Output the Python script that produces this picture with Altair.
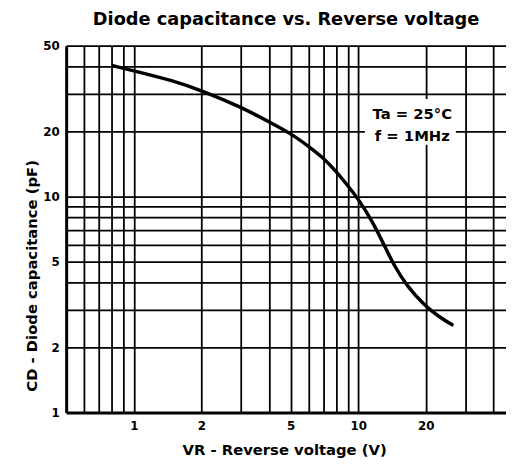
import altair as alt
import pandas as pd

# Curve (reverse voltage V, capacitance pF)
vr = [0.8, 1.0, 1.5, 2.0, 3.0, 4.0, 5.0, 6.0, 7.0, 8.0, 9.0, 10.0, 11.5, 13.0, 14.5, 16.5, 19.5, 23.0, 26.5]
cd = [40.5, 38.2, 34.4, 31.0, 26.0, 22.2, 19.6, 17.1, 15.1, 13.0, 11.2, 9.75, 7.75, 6.0, 4.75, 3.85, 3.17, 2.76, 2.53]

# Grid and label values
x_grid = [0.5, 0.6, 0.7, 0.8, 0.9, 1, 2, 3, 4, 5, 6, 7, 8, 9, 10, 20, 30, 40]
x_labels = [1, 2, 5, 10, 20]
y_grid = [1, 2, 3, 4, 5, 6, 7, 8, 9, 10, 20, 30, 40, 50]
y_labels = [1, 2, 5, 10, 20, 50]

# Annotation
note_lines = ["Ta = 25°C", "f = 1MHz"]
note_vr = [17.4, 17.4]
note_cd = [22.9, 18.0]
box_vr = [10.7]
box_vr2 = [27.2]
box_cd = [17.4]
box_cd2 = [28.3]

FONT = "DejaVu Sans"

curve = pd.DataFrame({"vr": vr, "cd": cd})
notes = pd.DataFrame({"vr": note_vr, "cd": note_cd, "txt": note_lines})
box = pd.DataFrame({"vr": box_vr, "vr2": box_vr2, "cd": box_cd, "cd2": box_cd2})

xs = alt.Scale(type="log", domain=[0.5, 45.5], nice=False)
ys = alt.Scale(type="log", domain=[1, 50], nice=False)

x_lab_expr = "indexof(" + str(x_labels) + ", datum.value) >= 0 ? datum.label : ''"
y_lab_expr = "indexof(" + str(y_labels) + ", datum.value) >= 0 ? datum.label : ''"

x_axis = alt.Axis(
    values=x_grid, labelExpr=x_lab_expr, format="~g", title="VR - Reverse voltage (V)",
    grid=True, gridColor="black", gridWidth=1.8, gridOpacity=1,
    ticks=False, domain=True, domainColor="black", domainWidth=3,
    labelFont=FONT, labelFontWeight="bold", labelFontSize=12, labelColor="black",
    labelPadding=8, labelOverlap=False, labelFlush=False,
    titleFont=FONT, titleFontWeight="bold", titleFontSize=15, titleColor="black",
    titleX=221, titleY=43, titleBaseline="alphabetic", titleAlign="center")
y_axis = alt.Axis(
    values=y_grid, labelExpr=y_lab_expr, format="~g", title="CD - Diode capacitance (pF)",
    grid=True, gridColor="black", gridWidth=1.8, gridOpacity=1,
    ticks=False, domain=True, domainColor="black", domainWidth=3,
    labelFont=FONT, labelFontWeight="bold", labelFontSize=12, labelColor="black",
    labelPadding=7, labelOverlap=False, labelFlush=False,
    titleFont=FONT, titleFontWeight="bold", titleFontSize=15, titleColor="black",
    titleX=-35, titleY=233, titleAngle=270, titleBaseline="middle", titleAlign="center")

line = alt.Chart(curve).mark_line(color="black", strokeWidth=3.5, interpolate="basis").encode(
    x=alt.X("vr:Q", scale=xs, axis=x_axis),
    y=alt.Y("cd:Q", scale=ys, axis=y_axis),
)

rect = alt.Chart(box).mark_rect(color="white", opacity=1).encode(
    x=alt.X("vr:Q", scale=xs, axis=x_axis),
    x2="vr2:Q",
    y=alt.Y("cd:Q", scale=ys, axis=y_axis),
    y2="cd2:Q",
)

text = alt.Chart(notes).mark_text(font=FONT, fontWeight="bold", fontSize=15, color="black",
                                  align="center", baseline="alphabetic").encode(
    x=alt.X("vr:Q", scale=xs, axis=x_axis),
    y=alt.Y("cd:Q", scale=ys, axis=y_axis),
    text="txt:N",
)

chart = alt.layer(line, rect, text).properties(
    width=446, height=372,
    title=alt.TitleParams("Diode capacitance vs. Reverse voltage", font=FONT, fontWeight="bold",
                          fontSize=18, color="black", anchor="middle", offset=11),
    autosize=alt.AutoSizeParams(type="none"),
    padding={"left": 59, "top": 35, "right": 0, "bottom": 45},
    background="white",
).configure_view(strokeWidth=0)

chart.save("out.html", embed_options={"renderer": "svg", "actions": False})
